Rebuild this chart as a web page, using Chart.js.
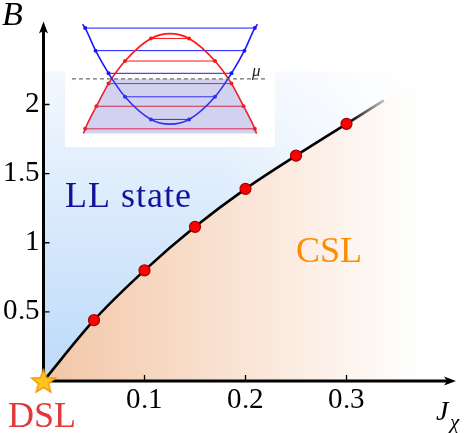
<!DOCTYPE html>
<html>
<head>
<meta charset="utf-8">
<script src="https://cdn.jsdelivr.net/npm/chart.js@4.4.1/dist/chart.umd.min.js"></script>
<style>
  @font-face { font-family: 'CMish'; src: local('Liberation Serif'), local('LiberationSerif'), local('DejaVu Serif'), local('DejaVuSerif'); font-style: normal; }
  @font-face { font-family: 'CMish'; src: local('Liberation Serif Italic'), local('LiberationSerif-Italic'), local('DejaVu Serif Italic'), local('DejaVuSerif-Italic'); font-style: italic; }
  body { margin: 0; background: #fff; }
  #wrap { position: relative; width: 473px; height: 433px; }
  #main { position: absolute; left: 0; top: 0; }
  #inset { position: absolute; left: 65px; top: 8px; }
</style>
</head>
<body>
<div id="wrap">
  <canvas id="main" width="473" height="433"></canvas>
  <canvas id="inset" width="210" height="139"></canvas>
</div>
<script>
// phase boundary points
const jchi = [0.05, 0.1, 0.15, 0.2, 0.25, 0.3];
const bField = [0.44, 0.80, 1.115, 1.39, 1.63, 1.86];
// faded extension of the boundary
const tailJ = [0.3, 0.337];
const tailB = [1.86, 2.03];
const edgeJ = [0.37];
const edgeB = [2.16];
const llTop = 2.24;
const xTicks = [0.1, 0.2, 0.3];
const yTicks = [0.5, 1, 1.5, 2];

// inset: level schematic
const blueU = [-1.01, -0.98, -0.86, -0.71, -0.52, -0.22, 0, 0.22, 0.52, 0.71, 0.86, 0.98, 1.01];
const blueE = [1.0, 0.962, 0.736, 0.509, 0.274, 0.047, 0, 0.047, 0.274, 0.509, 0.736, 0.962, 1.0];
const redU = [-1.0, -0.98, -0.85, -0.71, -0.52, -0.22, 0, 0.22, 0.52, 0.71, 0.85, 0.98, 1.0];
const redE = [-0.094, -0.047, 0.179, 0.406, 0.632, 0.858, 0.906, 0.858, 0.632, 0.406, 0.179, -0.047, -0.094];
const blueLevels = [0.047, 0.274, 0.509, 0.736, 0.962];
const blueHalf = [0.22, 0.52, 0.71, 0.86, 0.98];
const redLevels = [0.858, 0.632, 0.406, 0.179, -0.047];
const redHalf = [0.22, 0.52, 0.71, 0.85, 0.98];
const mu = 0.453;
const muU = [-1.133, 1.111];
const fillU = [-1.0, -0.98, -0.85, -0.71, -0.673, 0.673, 0.71, 0.85, 0.98, 1.0];
const fillE = [-0.094, -0.047, 0.179, 0.406, 0.453, 0.453, 0.406, 0.179, -0.047, -0.094];

const serif = 'CMish, "Liberation Serif", serif';
const W = 473, H = 433;

const mainCanvas = document.getElementById('main');
const mctx = mainCanvas.getContext('2d');

function bluePattern() {
  const c = document.createElement('canvas');
  c.width = W; c.height = H;
  const g = c.getContext('2d');
  const v = g.createLinearGradient(0, 381, 0, 60);
  v.addColorStop(0, '#bcdaf9');
  v.addColorStop(1, '#f5f9fe');
  g.fillStyle = v;
  g.fillRect(0, 0, W, H);
  const h = g.createLinearGradient(220, 0, 420, 0);
  h.addColorStop(0, 'rgba(255,255,255,0)');
  h.addColorStop(1, 'rgba(255,255,255,1)');
  g.fillStyle = h;
  g.fillRect(0, 0, W, H);
  return mctx.createPattern(c, 'no-repeat');
}

function orangeGrad() {
  const g = mctx.createLinearGradient(43, 0, 420, 0);
  g.addColorStop(0, '#f3c6a6');
  g.addColorStop(1, '#ffffff');
  return g;
}

function tailGrad() {
  const g = mctx.createLinearGradient(346, 114, 383, 90);
  g.addColorStop(0, '#000');
  g.addColorStop(1, 'rgba(190,190,190,0.7)');
  return g;
}

function starImg() {
  const c = document.createElement('canvas');
  c.width = 28; c.height = 28;
  const g = c.getContext('2d');
  g.beginPath();
  for (let k = 0; k < 10; k++) {
    const r = k % 2 ? 5.3 : 12.5;
    const a = -Math.PI / 2 + k * Math.PI / 5;
    g.lineTo(14 + r * Math.cos(a), 15 + r * Math.sin(a));
  }
  g.closePath();
  g.fillStyle = '#ffc41f';
  g.fill();
  g.strokeStyle = '#ef9800';
  g.lineWidth = 1.4;
  g.stroke();
  return c;
}

const pts = jchi.map((x, i) => ({x: x, y: bField[i]}));
const curve = [{x: 0, y: 0}].concat(pts);
const boundary = curve.concat(
  [{x: tailJ[1], y: tailB[1]}],
  edgeJ.map((x, i) => ({x: x, y: edgeB[i]}))
);

const axesPlugin = {
  id: 'axes',
  beforeDatasetsDraw(chart) {
    const {ctx, chartArea: a, scales: {x, y}} = chart;
    const x0 = x.getPixelForValue(0), y0 = y.getPixelForValue(0);
    ctx.save();
    ctx.strokeStyle = '#000';
    ctx.fillStyle = '#000';
    ctx.lineWidth = 3;
    ctx.beginPath();
    ctx.moveTo(x0 - 1.5, y0); ctx.lineTo(a.right - 6, y0);
    ctx.moveTo(x0, y0 + 1.5); ctx.lineTo(x0, a.top + 6);
    ctx.stroke();
    ctx.beginPath();
    ctx.moveTo(a.right, y0); ctx.lineTo(a.right - 12, y0 - 4.5);
    ctx.lineTo(a.right - 9, y0); ctx.lineTo(a.right - 12, y0 + 4.5);
    ctx.closePath();
    ctx.moveTo(x0, a.top); ctx.lineTo(x0 - 4.5, a.top + 12);
    ctx.lineTo(x0, a.top + 9); ctx.lineTo(x0 + 4.5, a.top + 12);
    ctx.closePath();
    ctx.fill();
    ctx.lineWidth = 1.3;
    ctx.beginPath();
    xTicks.forEach(v => { const p = x.getPixelForValue(v); ctx.moveTo(p, y0); ctx.lineTo(p, y0 - 6); });
    yTicks.forEach(v => { const p = y.getPixelForValue(v); ctx.moveTo(x0, p); ctx.lineTo(x0 + 6, p); });
    ctx.stroke();
    ctx.restore();
  }
};

const labelPlugin = {
  id: 'labels',
  afterDraw(chart) {
    const {ctx, scales: {x, y}} = chart;
    ctx.save();
    ctx.textBaseline = 'alphabetic';
    ctx.letterSpacing = '1px';
    ctx.font = '36px ' + serif;
    ctx.fillStyle = '#12129a';
    ctx.fillText('LL state', x.getPixelForValue(0.0213), y.getPixelForValue(1.255));
    ctx.letterSpacing = '0px';
    ctx.fillStyle = '#ff8c00';
    ctx.font = '36px ' + serif;
    ctx.fillText('CSL', x.getPixelForValue(0.2498), y.getPixelForValue(0.858));
    ctx.fillStyle = '#e53838';
    ctx.fillText('DSL', 8, 427);
    ctx.fillStyle = '#000';
    ctx.font = 'italic 34px ' + serif;
    ctx.fillText('B', 2, 25);
    ctx.font = 'italic 28px ' + serif;
    ctx.fillText('J', 436, 420);
    ctx.font = 'italic 21px ' + serif;
    ctx.fillText('χ', 450, 429);
    ctx.restore();
  }
};

const setTicks = arr => scale => { scale.ticks = arr.map(v => ({value: v})); };

function drawAll() {
new Chart(mainCanvas, {
  type: 'line',
  data: {
    datasets: [
      {data: [{x: 0, y: 0}], pointStyle: starImg(), pointRadius: 12, clip: false, showLine: false, order: 0},
      {data: pts, showLine: false, pointRadius: 5.5, pointBackgroundColor: '#ff0000',
       pointBorderColor: '#a00000', pointBorderWidth: 1.2, order: 1},
      {data: curve, borderColor: '#000', borderWidth: 2.6, pointRadius: 0,
       cubicInterpolationMode: 'monotone', order: 2},
      {data: tailJ.map((x, i) => ({x: x, y: tailB[i]})), borderColor: tailGrad(), borderWidth: 2.6,
       pointRadius: 0, order: 3},
      {data: boundary, borderWidth: 0, pointRadius: 0, fill: 'origin', backgroundColor: orangeGrad(),
       cubicInterpolationMode: 'monotone', order: 4},
      {data: boundary, borderWidth: 0, pointRadius: 0, fill: {value: llTop}, backgroundColor: bluePattern(),
       cubicInterpolationMode: 'monotone', order: 5}
    ]
  },
  options: {
    responsive: false,
    devicePixelRatio: 1,
    animation: false,
    events: [],
    layout: {padding: {top: 8, right: 17, left: 0, bottom: 0}},
    plugins: {legend: {display: false}, tooltip: {enabled: false}, filler: {drawTime: 'beforeDatasetsDraw'}},
    scales: {
      x: {
        type: 'linear', min: 0, max: 0.4084,
        grid: {display: false, drawTicks: false},
        border: {display: false},
        afterBuildTicks: setTicks(xTicks),
        afterFit: s => { s.height = 52; },
        ticks: {color: '#000', font: {family: serif, size: 29}, padding: 2, maxRotation: 0,
                autoSkip: false, callback: v => String(v)}
      },
      y: {
        type: 'linear', min: 0, max: 2.601,
        grid: {display: false, drawTicks: false},
        border: {display: false},
        afterBuildTicks: setTicks(yTicks),
        afterFit: s => { s.width = 43.5; },
        ticks: {color: '#000', font: {family: serif, size: 29}, padding: 4,
                autoSkip: false, callback: v => String(v)}
      }
    }
  },
  plugins: [axesPlugin, labelPlugin]
});

// inset
const BLUE = 'rgb(25,25,255)', RED = 'rgb(255,20,20)';
const insetSets = [];
insetSets.push({data: fillU.map((u, i) => ({x: u, y: fillE[i]})), borderWidth: 0, pointRadius: 0,
  fill: {value: redE[0]}, backgroundColor: 'rgba(105,105,205,0.3)', order: 0});
insetSets.push({data: muU.map(u => ({x: u, y: mu})), borderColor: '#6e6e6e', borderWidth: 1.4,
  borderDash: [4, 3], pointRadius: 0, order: 1});
insetSets.push({data: blueU.map((u, i) => ({x: u, y: blueE[i]})), borderColor: BLUE, borderWidth: 1.6,
  pointRadius: 0, cubicInterpolationMode: 'monotone', order: 2});
insetSets.push({data: redU.map((u, i) => ({x: u, y: redE[i]})), borderColor: RED, borderWidth: 1.6,
  pointRadius: 0, cubicInterpolationMode: 'monotone', order: 2});
blueLevels.forEach((e, i) => insetSets.push({
  data: [{x: -blueHalf[i], y: e}, {x: blueHalf[i], y: e}], borderColor: BLUE, borderWidth: 1,
  pointRadius: 2, pointBackgroundColor: BLUE, pointBorderWidth: 0, order: 3}));
redLevels.forEach((e, i) => insetSets.push({
  data: [{x: -redHalf[i], y: e}, {x: redHalf[i], y: e}], borderColor: RED, borderWidth: 1,
  pointRadius: 2, pointBackgroundColor: RED, pointBorderWidth: 0, order: 3}));

new Chart(document.getElementById('inset'), {
  type: 'line',
  data: {datasets: insetSets},
  options: {
    responsive: false,
    devicePixelRatio: 1,
    animation: false,
    events: [],
    layout: {padding: 0},
    plugins: {legend: {display: false}, tooltip: {enabled: false}},
    scales: {
      x: {type: 'linear', min: -1.167, max: 1.167, display: false},
      y: {type: 'linear', min: -0.189, max: 1.123, display: false}
    }
  },
  plugins: [{
    id: 'insetBg',
    beforeDraw(chart) {
      const ctx = chart.ctx;
      ctx.save();
      ctx.fillStyle = '#fff';
      ctx.fillRect(0, 0, chart.width, chart.height);
      ctx.restore();
    },
    afterDraw(chart) {
      const ctx = chart.ctx;
      ctx.save();
      ctx.fillStyle = '#222';
      ctx.font = 'italic 17px ' + serif;
      ctx.fillText('μ', 187, 68);
      ctx.restore();
    }
  }]
});
}

Promise.all([
  document.fonts.load('36px CMish'),
  document.fonts.load('italic 34px CMish')
]).then(drawAll, drawAll);
</script>
</body>
</html>
